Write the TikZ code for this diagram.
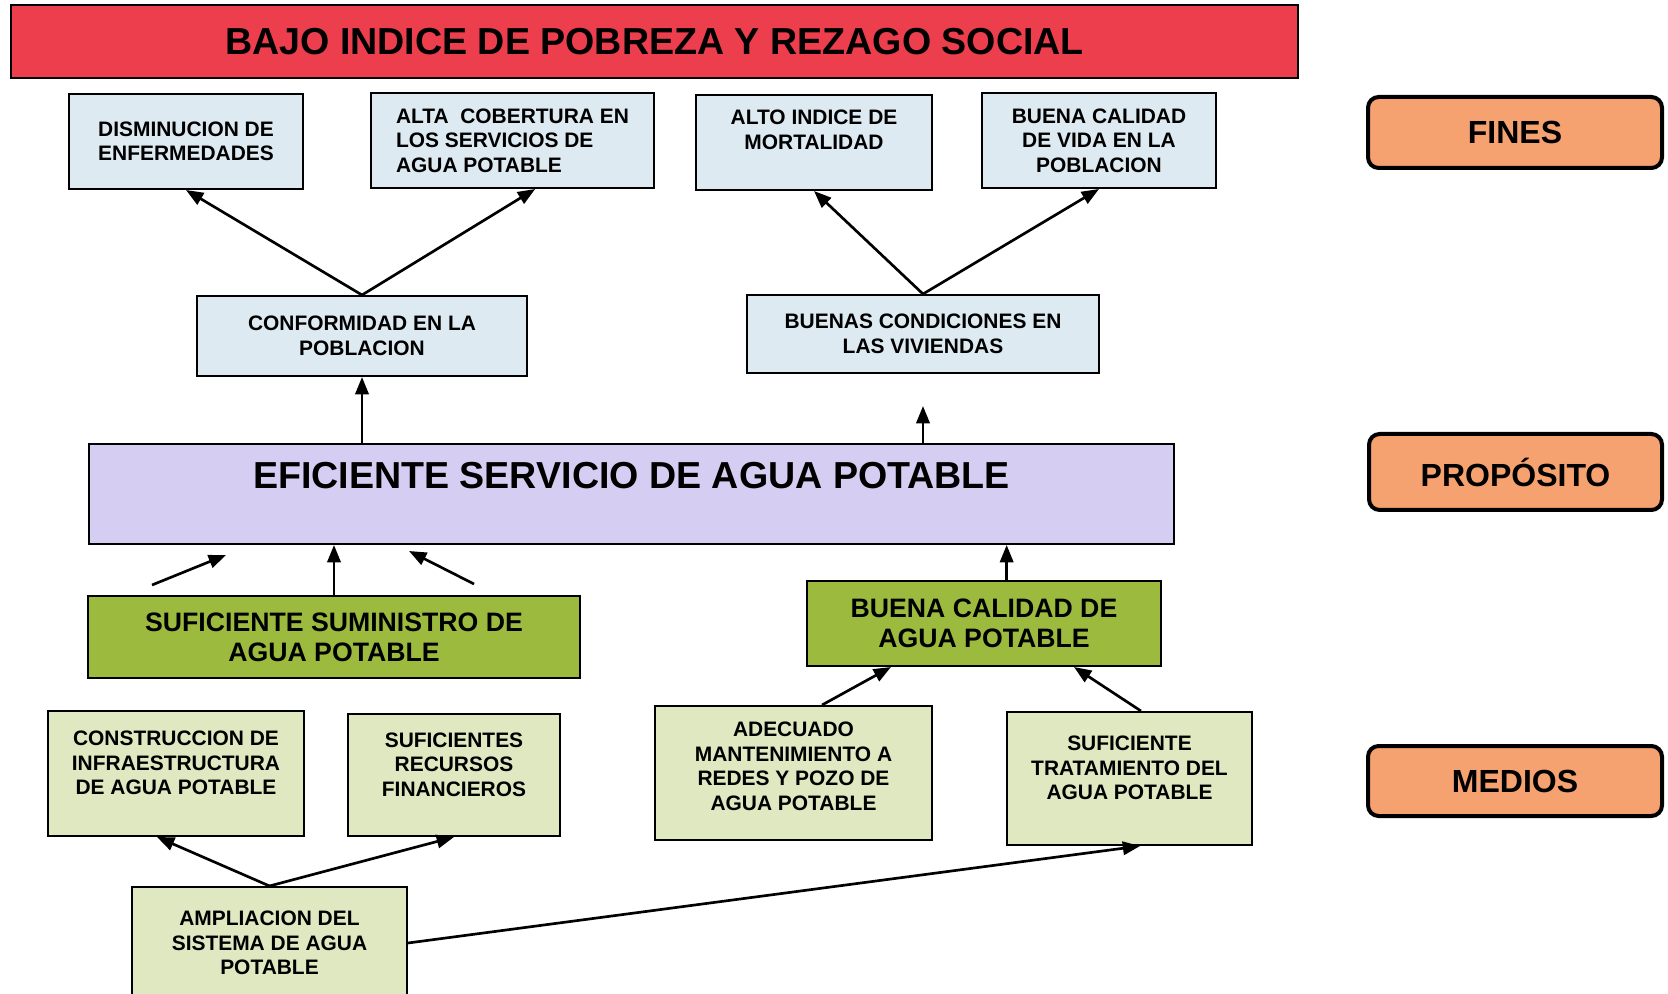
\documentclass[tikz,border=0pt]{standalone}
\usepackage{fontspec}
\setmainfont{Liberation Sans}
\usetikzlibrary{arrows.meta}
\definecolor{rojoFin}{RGB}{236,62,76}
\definecolor{azulFin}{RGB}{222,234,242}
\definecolor{lilaProp}{RGB}{213,206,242}
\definecolor{verdeComp}{RGB}{156,187,62}
\definecolor{verdeMedio}{RGB}{223,232,192}
\definecolor{naranjaNivel}{RGB}{246,162,112}
\begin{document}
\begin{tikzpicture}[x=0.75pt,y=0.75pt,yscale=-1,xscale=1,
  caja/.style={draw=black, line width=1.5pt, inner sep=0pt, align=center, font=\bfseries\fontsize{15.7}{18.4}\selectfont},
  fin/.style={caja, fill=azulFin},
  medio/.style={caja, fill=verdeMedio},
  comp/.style={caja, fill=verdeComp, font=\bfseries\fontsize{20}{22.3}\selectfont},
  nivel/.style={draw=black, line width=3pt, rounded corners=8pt, fill=naranjaNivel, inner sep=0pt, font=\bfseries\fontsize{24}{28}\selectfont},
  flecha/.style={line width=2pt, -{Triangle[length=13pt,width=10pt]}}]
%set diagram size
\useasboundingbox (0,0) rectangle (1668,994);

%Shape: Rectangle [fin ultimo]
\node[caja, fill=rojoFin, minimum width=965.25pt, minimum height=54.75pt, font=\bfseries\fontsize{28.2}{30}\selectfont] (ultimo) at (654.5,41.5) {BAJO INDICE DE POBREZA Y REZAGO SOCIAL};

% Fines
\node[fin, minimum width=175.5pt, minimum height=71.25pt] (enferm) at (186,141.5) {DISMINUCION DE\\ENFERMEDADES};
\node[fin, minimum width=212.25pt, minimum height=71.25pt, align=left] (cobert) at (512.5,140.5) {ALTA\ \ COBERTURA EN\\LOS SERVICIOS DE\\AGUA POTABLE};
\node[fin, minimum width=177pt, minimum height=71.25pt, text depth=19pt] (mortal) at (814,142.5) {ALTO INDICE DE\\MORTALIDAD};
\node[fin, minimum width=175.5pt, minimum height=71.25pt] (vida) at (1099,140.5) {BUENA CALIDAD\\DE VIDA EN LA\\POBLACION};
\node[fin, minimum width=247.5pt, minimum height=60pt] (conform) at (362,336) {CONFORMIDAD EN LA\\POBLACION};
\node[fin, minimum width=264pt, minimum height=58.5pt] (vivienda) at (923,334) {BUENAS CONDICIONES EN\\LAS VIVIENDAS};

% Proposito
\node[caja, fill=lilaProp, minimum width=813.75pt, minimum height=75pt, text depth=28pt, font=\bfseries\fontsize{28.2}{30}\selectfont] (servicio) at (631.5,494) {EFICIENTE SERVICIO DE AGUA POTABLE};

% Componentes
\node[comp, minimum width=369pt, minimum height=61.5pt] (suministro) at (334,637) {SUFICIENTE SUMINISTRO DE\\AGUA POTABLE};
\node[comp, minimum width=265.5pt, minimum height=63.75pt] (calidad) at (984,623.5) {BUENA CALIDAD DE\\AGUA POTABLE};

% Medios
\node[medio, minimum width=192pt, minimum height=93.75pt, text depth=16pt] (infra) at (176,773.5) {CONSTRUCCION DE\\INFRAESTRUCTURA\\DE AGUA POTABLE};
\node[medio, minimum width=159pt, minimum height=91.5pt, text depth=16pt] (recursos) at (454,775) {SUFICIENTES\\RECURSOS\\FINANCIEROS};
\node[medio, minimum width=207.75pt, minimum height=100.5pt, text depth=10pt] (manten) at (793.5,773) {ADECUADO\\MANTENIMIENTO A\\REDES Y POZO DE\\AGUA POTABLE};
\node[medio, minimum width=183.75pt, minimum height=99.75pt, text depth=16pt] (tratam) at (1129.5,778.5) {SUFICIENTE\\TRATAMIENTO DEL\\AGUA POTABLE};
\node[medio, minimum width=206.25pt, minimum height=84pt] (ampliac) at (269.5,943) {AMPLIACION DEL\\SISTEMA DE AGUA\\POTABLE};

% Niveles
\node[nivel, minimum width=220.5pt, minimum height=53.25pt] (fines) at (1515,132.5) {FINES};
\node[nivel, minimum width=219.75pt, minimum height=57pt] (proposito) at (1515.5,472) {PROPÓSITO};
\node[nivel, minimum width=220.5pt, minimum height=52.5pt] (medios) at (1515,781) {MEDIOS};

%Straight Lines
\draw[flecha] (conform.north) -- (enferm.south);
\draw[flecha] (conform.north) -- ([xshift=17pt]cobert.south);
\draw[flecha] (vivienda.north) -- (mortal.south);
\draw[flecha] (vivienda.north) -- (vida.south);
\draw[flecha] (conform.south |- servicio.north) -- (conform.south);
\draw[flecha] (vivienda.south |- servicio.north) -- ++(0,-37);

\coordinate (izqA) at (152,585);
\coordinate (izqB) at (226,555);
\coordinate (derA) at (474,584);
\coordinate (derB) at (409,551);
\draw[flecha] (izqA) -- (izqB);
\draw[flecha] (derA) -- (derB);
\draw[flecha] (suministro.north) -- (suministro.north |- servicio.south);
\draw[flecha] ([xshift=17pt]calidad.north) -- ([xshift=17pt]calidad.north |- servicio.south);

\draw[flecha] ([xshift=21.4pt]manten.north) -- ([xshift=-69.75pt]calidad.south);
\draw[flecha] ([xshift=8.6pt]tratam.north) -- ([xshift=67.5pt]calidad.south);
\draw[flecha] (ampliac.north) -- ([xshift=-14.25pt]infra.south);
\draw[flecha] (ampliac.north) -- (recursos.south);
\draw[flecha] (ampliac.east) -- ([xshift=8pt]tratam.south);
\end{tikzpicture}
\end{document}
